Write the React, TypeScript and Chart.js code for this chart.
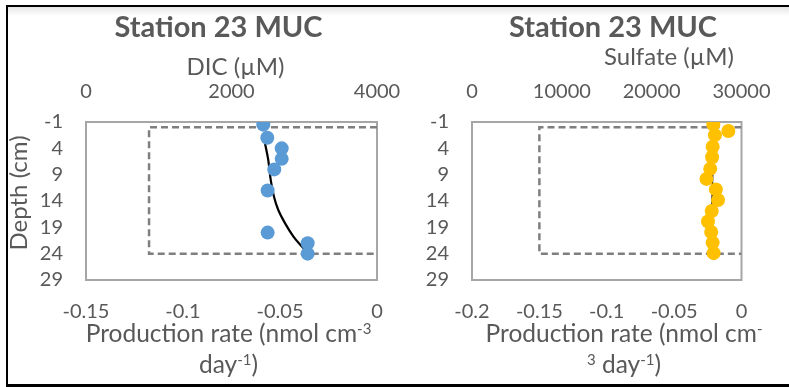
import React, { useEffect, useRef } from 'react';
import { Chart, registerables } from 'chart.js';

Chart.register(...registerables);

// ---------- data ----------
const depthTicks = [-1, 4, 9, 14, 19, 24, 29];

// Left panel: DIC
const dicDepth = [-0.5, 2, 4, 6, 8, 12, 20, 22, 24];
const dicValues = [2437, 2492, 2690, 2690, 2588, 2497, 2497, 3047, 3047];
const dicFitDepth = [1.9, 3, 6.2, 10, 13.2, 15.7, 18.2, 20.7, 22.6, 23.6];
const dicFitValues = [2447, 2460, 2505, 2539, 2584, 2643, 2735, 2849, 2965, 3034];
const dicRateDepth = [0, 0, 24, 24];
const dicRateValues = [0, -0.1175, -0.1175, 0];
const dicRateTicks = [-0.15, -0.1, -0.05, 0];
const dicConcTicks = [0, 2000, 4000];

// Right panel: Sulfate
const sulfDepth = [-0.5, 0.7, 1.5, 3.7, 5.7, 7.9, 9.8, 11.8, 13.8, 15.9, 17.9, 19.9, 21.9, 23.9];
const sulfValues = [26864, 28537, 27042, 26791, 26728, 26519, 26101, 27146, 27387, 26686, 26268, 26624, 26791, 26895];
const sulfFitDepth = [0.5, 23.5];
const sulfFitValues = [26900, 26600];
const sulfRateDepth = [0, 0, 24, 24];
const sulfRateValues = [0, -0.15, -0.15, 0];
const sulfRateTicks = [-0.2, -0.15, -0.1, -0.05, 0];
const sulfConcTicks = [0, 10000, 20000, 30000];

// ---------- layout / style ----------
const H = 387;
const AREA_TOP = 122;
const AREA_BOTTOM = 280;
const TEXT = '#595959';
const FONT = 'Lato';

type Part = { t: string; sup?: boolean };

type Panel = {
  canvasLeft: number;
  canvasWidth: number;
  areaLeft: number;
  areaRight: number;
  concDepth: number[];
  concValues: number[];
  color: string;
  radius: number;
  fitDepth: number[];
  fitValues: number[];
  fitWidth: number;
  fitTension: number;
  rateDepth: number[];
  rateValues: number[];
  rateTicks: number[];
  concTicks: number[];
  title: string;
  titleX: number;
  concTitle: string;
  concTitleX: number;
  concTitleY: number;
  rateTitle: Part[][];
  rateTitleX: number;
  depthTitle: boolean;
};

const panels: Panel[] = [
  {
    canvasLeft: 0,
    canvasWidth: 430,
    areaLeft: 86,
    areaRight: 377,
    concDepth: dicDepth,
    concValues: dicValues,
    color: '#5b9bd5',
    radius: 7,
    fitDepth: dicFitDepth,
    fitValues: dicFitValues,
    fitWidth: 2.2,
    fitTension: 0.4,
    rateDepth: dicRateDepth,
    rateValues: dicRateValues,
    rateTicks: dicRateTicks,
    concTicks: dicConcTicks,
    title: 'Station 23 MUC',
    titleX: 218.5,
    concTitle: 'DIC (µM)',
    concTitleX: 235.5,
    concTitleY: 75,
    rateTitle: [
      [{ t: 'Production rate (nmol cm' }, { t: '-3', sup: true }],
      [{ t: 'day' }, { t: '-1', sup: true }, { t: ')' }],
    ],
    rateTitleX: 228.5,
    depthTitle: true,
  },
  {
    canvasLeft: 395,
    canvasWidth: 394,
    areaLeft: 77,
    areaRight: 364,
    concDepth: sulfDepth,
    concValues: sulfValues,
    color: '#ffc000',
    radius: 7,
    fitDepth: sulfFitDepth,
    fitValues: sulfFitValues,
    fitWidth: 1.5,
    fitTension: 0,
    rateDepth: sulfRateDepth,
    rateValues: sulfRateValues,
    rateTicks: sulfRateTicks,
    concTicks: sulfConcTicks,
    title: 'Station 23 MUC',
    titleX: 613 - 395,
    concTitle: 'Sulfate (µM)',
    concTitleX: 669 - 395,
    concTitleY: 65,
    rateTitle: [
      [{ t: 'Production rate (nmol cm' }, { t: '-', sup: true }],
      [{ t: '3', sup: true }, { t: ' day' }, { t: '-1', sup: true }, { t: ')' }],
    ],
    rateTitleX: 624 - 395,
    depthTitle: false,
  },
];

function drawRich(ctx: CanvasRenderingContext2D, parts: Part[], cx: number, baseline: number, size: number) {
  const supSize = Math.round(size * 0.62);
  const widths = parts.map((p) => {
    ctx.font = `${p.sup ? supSize : size}px ${FONT}`;
    return ctx.measureText(p.t).width;
  });
  const total = widths.reduce((a, b) => a + b, 0);
  let x = cx - total / 2;
  ctx.textAlign = 'left';
  ctx.textBaseline = 'alphabetic';
  parts.forEach((p, i) => {
    ctx.font = `${p.sup ? supSize : size}px ${FONT}`;
    ctx.fillText(p.t, x, p.sup ? baseline - size * 0.34 : baseline);
    x += widths[i];
  });
}

function makeChart(canvas: HTMLCanvasElement, p: Panel) {
  const tickFont = { family: FONT, size: 20 };
  const decoPlugin = {
    id: 'deco',
    beforeDatasetsDraw(chart: any) {
      const { ctx, chartArea: a } = chart;
      ctx.save();
      ctx.strokeStyle = '#a6a6a6';
      ctx.lineWidth = 2;
      ctx.strokeRect(a.left, a.top, a.right - a.left, a.bottom - a.top);
      ctx.restore();
    },
    afterDraw(chart: any) {
      const { ctx } = chart;
      ctx.save();
      ctx.fillStyle = TEXT;
      ctx.textAlign = 'center';
      ctx.textBaseline = 'alphabetic';
      ctx.font = `bold 29px ${FONT}`;
      ctx.fillText(p.title, p.titleX, 37);
      ctx.font = `24px ${FONT}`;
      ctx.fillText(p.concTitle, p.concTitleX, p.concTitleY);
      drawRich(ctx, p.rateTitle[0], p.rateTitleX, 342, 24.5);
      drawRich(ctx, p.rateTitle[1], p.rateTitleX, 373, 24.5);
      if (p.depthTitle) {
        ctx.translate(19, 193);
        ctx.rotate(-Math.PI / 2);
        ctx.textAlign = 'center';
        ctx.textBaseline = 'middle';
        ctx.font = `24px ${FONT}`;
        ctx.fillText('Depth (cm)', 0, 0);
      }
      ctx.restore();
    },
  };

  return new Chart(canvas, {
    type: 'scatter',
    data: {
      datasets: [
        {
          type: 'scatter',
          data: p.concValues.map((v, i) => ({ x: v, y: p.concDepth[i] })),
          xAxisID: 'xc',
          yAxisID: 'y',
          pointRadius: p.radius,
          pointHoverRadius: p.radius,
          backgroundColor: p.color,
          borderColor: p.color,
          pointBorderWidth: 0,
        } as any,
        {
          type: 'line',
          data: p.fitValues.map((v, i) => ({ x: v, y: p.fitDepth[i] })),
          xAxisID: 'xc',
          yAxisID: 'y',
          borderColor: '#000000',
          borderWidth: p.fitWidth,
          pointRadius: 0,
          tension: p.fitTension,
          fill: false,
        } as any,
        {
          type: 'line',
          data: p.rateValues.map((v, i) => ({ x: v, y: p.rateDepth[i] })),
          xAxisID: 'xr',
          yAxisID: 'y',
          borderColor: '#7f7f7f',
          borderWidth: 2.5,
          borderDash: [7, 4],
          pointRadius: 0,
          tension: 0,
          fill: false,
        } as any,
      ],
    },
    options: {
      responsive: false,
      animation: false,
      events: [],
      layout: { padding: { left: 0, top: 0, bottom: 0, right: p.canvasWidth - p.areaRight } },
      plugins: { legend: { display: false }, tooltip: { enabled: false }, title: { display: false } },
      scales: {
        xr: {
          type: 'linear',
          position: 'bottom',
          min: p.rateTicks[0],
          max: p.rateTicks[p.rateTicks.length - 1],
          grid: { display: false, drawTicks: false },
          border: { display: false },
          ticks: { font: tickFont, color: TEXT, padding: 19.5, maxRotation: 0, autoSkip: false, callback: (v: any) => String(v) },
          afterBuildTicks: (s: any) => { s.ticks = p.rateTicks.map((v) => ({ value: v })); },
          afterFit: (s: any) => { s.height = H - AREA_BOTTOM; },
        },
        xc: {
          type: 'linear',
          position: 'top',
          min: p.concTicks[0],
          max: p.concTicks[p.concTicks.length - 1],
          grid: { display: false, drawTicks: false },
          border: { display: false },
          ticks: { font: tickFont, color: TEXT, padding: 18.5, maxRotation: 0, autoSkip: false, callback: (v: any) => String(v) },
          afterBuildTicks: (s: any) => { s.ticks = p.concTicks.map((v) => ({ value: v })); },
          afterFit: (s: any) => { s.height = AREA_TOP; },
        },
        y: {
          type: 'linear',
          position: 'left',
          reverse: true,
          min: depthTicks[0],
          max: depthTicks[depthTicks.length - 1],
          grid: { display: false, drawTicks: false },
          border: { display: false },
          ticks: { font: tickFont, color: TEXT, padding: 23, autoSkip: false, callback: (v: any) => String(v) },
          afterBuildTicks: (s: any) => { s.ticks = depthTicks.map((v) => ({ value: v })); },
          afterFit: (s: any) => { s.width = p.areaLeft; },
        },
      },
    } as any,
    plugins: [decoPlugin],
  });
}

function PanelCanvas({ p }: { p: Panel }) {
  const ref = useRef<HTMLCanvasElement>(null);
  useEffect(() => {
    if (!ref.current) return;
    const c = makeChart(ref.current, p);
    return () => c.destroy();
  }, [p]);
  return (
    <canvas
      ref={ref}
      width={p.canvasWidth}
      height={H}
      style={{ position: 'absolute', left: p.canvasLeft, top: 0, width: p.canvasWidth, height: H, display: 'block' }}
    />
  );
}

export default function App() {
  return (
    <div style={{ position: 'fixed', left: 0, top: 0, width: 789, height: H, background: '#ffffff', overflow: 'hidden' }}>
      <div style={{ position: 'absolute', left: 6, top: 7, width: 783, height: 9, background: 'linear-gradient(#e6e6e6, #ffffff)' }} />
      <div style={{ position: 'absolute', left: 6, top: 5, width: 783, height: 2, background: '#000' }} />
      <div style={{ position: 'absolute', left: 6, top: 5, width: 2, height: 382, background: '#000' }} />
      <div style={{ position: 'absolute', left: 6, top: 384, width: 783, height: 3, background: '#000' }} />
      {panels.map((p, i) => (
        <PanelCanvas key={i} p={p} />
      ))}
    </div>
  );
}
